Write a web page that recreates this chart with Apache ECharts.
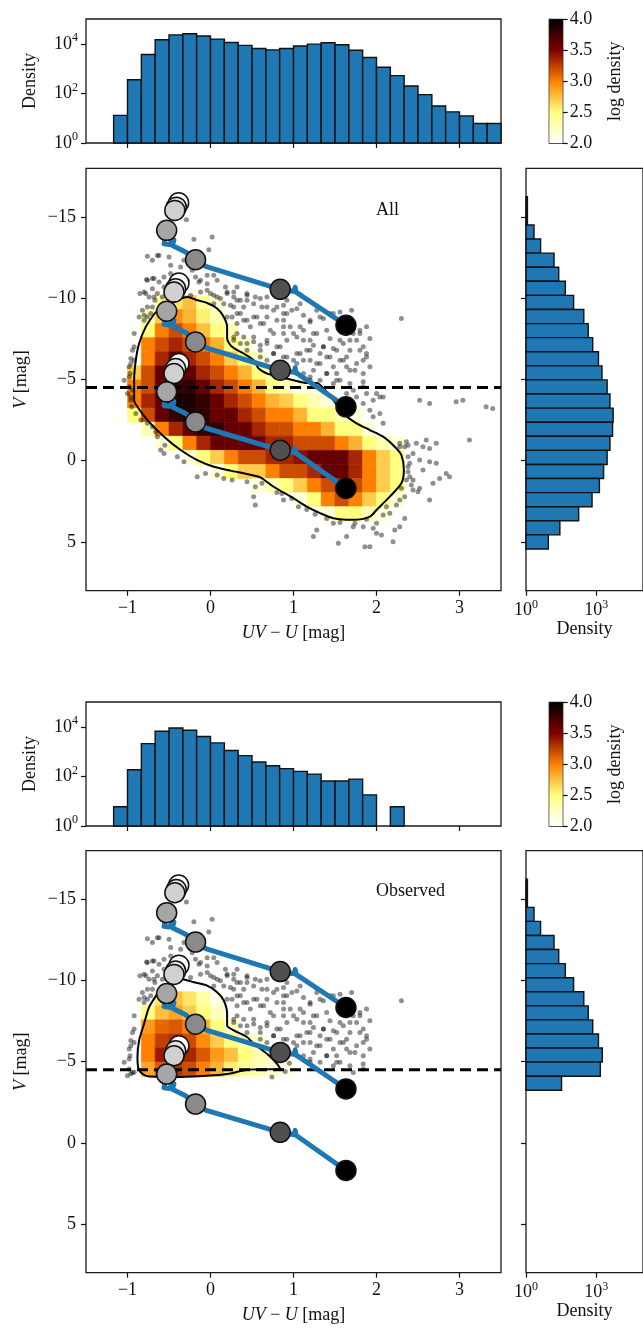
<!DOCTYPE html>
<html>
<head>
<meta charset="utf-8">
<script src="https://cdn.jsdelivr.net/npm/echarts@6/dist/echarts.min.js"></script>
<style>
  html, body { margin: 0; padding: 0; background: #fff; }
  #cmd { width: 643px; height: 1328px; }
</style>
</head>
<body>
<div id="cmd"></div>
<script>
// bin edges (colour UV-U and magnitude V)
var colorEdges = [-1.167, -1.0, -0.833, -0.667, -0.5, -0.333, -0.167, 0, 0.167, 0.333, 0.5, 0.667, 0.833, 1.0,
  1.167, 1.333, 1.5, 1.667, 1.833, 2.0, 2.167, 2.333, 2.5, 2.667, 2.833, 3.0, 3.167, 3.333, 3.5];
var magEdges = [-16.245, -15.378, -14.511, -13.644, -12.777, -11.91, -11.043, -10.176, -9.309, -8.442, -7.575,
  -6.708, -5.841, -4.974, -4.107, -3.24, -2.373, -1.506, -0.639, 0.228, 1.095, 1.962, 2.829, 3.696, 4.563, 5.43];

// marginal histograms
var colorHistAll = [13, 357, 3700, 14500, 23000, 25500, 20500, 15500, 11300, 8600, 6500, 5700, 6500, 8100,
  9700, 11000, 9100, 5500, 2800, 1130, 520, 200, 89, 31, 18, 12.4, 6.1, 6.1];
var colorHistObs = [6, 186, 2100, 6600, 8900, 7300, 4050, 2240, 1100, 690, 380, 270, 205, 160,
  124, 65, 65, 78, 18, 0, 6, 0, 0, 0, 0, 0, 0, 0];
var magHistAll = [1.15, 1.15, 2.2, 4.2, 15.8, 25, 48, 108, 295, 457, 710, 1250, 1770, 2930, 3870, 5300,
  5000, 3870, 2930, 2070, 1370, 665, 178, 28, 9];
var magHistObs = [1.15, 1.15, 2.2, 4.2, 15.8, 25, 48, 108, 295, 457, 710, 1250, 1820, 1500, 33, 0,
  0, 0, 0, 0, 0, 0, 0, 0, 0];

// 2D log density: [magBin, firstColourBin, values...]
var densAllRows = [
  [7, 3, [2.4, 2.6, 2.75, 2.4, 2.15]],
  [8, 2, [2.3, 2.7, 2.95, 2.8, 2.55, 2.3]],
  [9, 2, [2.5, 3.0, 3.2, 3.0, 2.75, 2.5, 2.3]],
  [10, 2, [3.0, 3.2, 3.35, 3.2, 3.0, 2.8, 2.5, 2.2]],
  [11, 2, [3.0, 3.35, 3.6, 3.35, 3.2, 3.0, 2.7, 2.5, 2.2]],
  [12, 1, [2.7, 3.2, 3.6, 3.8, 3.6, 3.35, 3.2, 3.0, 2.8, 2.5, 2.3, 2.15]],
  [13, 1, [3.0, 3.2, 3.6, 3.8, 3.8, 3.6, 3.35, 3.2, 3.0, 2.8, 2.5, 2.3, 2.15, 2.1]],
  [14, 1, [3.0, 3.35, 3.6, 3.9, 3.9, 3.8, 3.6, 3.35, 3.2, 3.0, 2.8, 2.7, 2.5, 2.3, 2.15]],
  [15, 1, [2.5, 3.2, 3.6, 3.8, 3.9, 3.8, 3.6, 3.6, 3.35, 3.2, 3.0, 3.0, 2.8, 2.5, 2.5, 2.3, 2.15]],
  [16, 2, [2.3, 3.0, 3.35, 3.6, 3.8, 3.8, 3.6, 3.6, 3.35, 3.2, 3.2, 3.0, 3.0, 2.8, 2.5, 2.5, 2.15]],
  [17, 3, [2.15, 2.5, 3.0, 3.35, 3.6, 3.6, 3.6, 3.6, 3.35, 3.35, 3.2, 3.2, 3.2, 3.0, 2.8, 2.5, 2.3, 2.15]],
  [18, 5, [2.15, 2.5, 2.7, 3.0, 3.2, 3.2, 3.35, 3.35, 3.45, 3.6, 3.6, 3.6, 3.35, 3.0, 2.7, 2.5]],
  [19, 7, [2.15, 2.5, 2.7, 2.7, 3.0, 3.2, 3.2, 3.35, 3.6, 3.6, 3.35, 3.0, 2.7, 2.5]],
  [20, 10, [2.15, 2.3, 2.5, 2.7, 3.0, 3.2, 3.35, 3.2, 3.0, 2.7, 2.5]],
  [21, 13, [2.15, 2.5, 3.0, 3.2, 3.0, 2.7, 2.5, 2.15]],
  [22, 15, [2.15, 2.5, 2.5, 2.3, 2.15]]
];
var densObsRows = [
  [8, 3, [2.6, 2.75, 2.6, 2.35, 2.1]],
  [9, 2, [2.5, 2.75, 2.85, 2.7, 2.5, 2.25]],
  [10, 2, [2.9, 3.1, 3.15, 3.0, 2.8, 2.5, 2.25]],
  [11, 2, [3.0, 3.25, 3.3, 3.2, 2.95, 2.7, 2.5, 2.3, 2.15]],
  [12, 2, [3.0, 3.4, 3.45, 3.35, 3.15, 2.9, 2.75, 2.5, 2.3, 2.2, 2.1]],
  [13, 2, [2.85, 3.15, 3.3, 3.2, 3.0, 2.8, 2.55, 2.4, 2.3, 2.2, 2.1]]
];

// individual sources outside the density contour
var scatterUpper = [
  [-0.29, -14.84], [-0.20, -13.63], [0.02, -13.77], [-0.02, -12.99], [-0.76, -12.58], [-0.62, -12.64],
  [-0.48, -12.03], [-0.70, -12.34], [-0.50, -12.54], [-0.77, -11.15], [-0.70, -11.21], [-0.62, -11.00],
  [-0.80, -10.39], [-0.85, -10.29], [-0.74, -10.08], [-0.67, -9.88], [-0.70, -9.47], [-0.76, -9.47],
  [-0.70, -10.59], [-0.64, -10.29], [-0.56, -10.70], [-0.58, -10.08], [-0.24, -10.18], [-0.48, -11.52],
  [-0.28, -11.11], [-0.22, -11.72], [-0.04, -11.41], [0.08, -11.11], [0.18, -10.70], [0.44, -10.29],
  [0.32, -10.70], [0.68, -10.08], [0.92, -9.88], [-0.18, -11.31], [-0.14, -11.00], [-0.12, -10.39],
  [-0.04, -10.49], [0.04, -10.18], [0.12, -9.98], [0.20, -10.29], [0.28, -10.39], [0.32, -9.88],
  [0.16, -9.67], [0.04, -9.67], [0.28, -9.47], [0.40, -9.47], [0.44, -9.88], [0.54, -10.08],
  [0.62, -9.47], [0.52, -8.85], [0.36, -9.06], [0.26, -8.85], [0.32, -8.44], [0.44, -8.65],
  [0.60, -8.44], [0.68, -8.85], [0.80, -9.47], [0.88, -9.06], [0.98, -9.26], [1.08, -9.67],
  [1.20, -8.65], [1.32, -8.85], [1.48, -9.06], [1.56, -9.16], [1.70, -9.26], [1.80, -8.03],
  [1.76, -7.42], [1.68, -6.80], [1.88, -6.60], [1.84, -6.19], [1.74, -5.57], [1.48, -6.91],
  [1.36, -7.01], [1.24, -7.11], [1.12, -7.42], [1.00, -7.83], [0.88, -8.24], [0.76, -7.83],
  [0.68, -7.42], [0.60, -7.11], [0.44, -7.21], [0.32, -7.83], [0.28, -7.42], [0.40, -7.62],
  [0.52, -7.62], [0.80, -7.01], [0.92, -7.42], [1.08, -6.60], [1.20, -6.19], [1.32, -5.98],
  [1.24, -5.57], [1.40, -5.37], [1.52, -5.37], [1.64, -5.78], [1.00, -6.19], [0.90, -5.78],
  [0.68, -6.19], [0.60, -6.39], [0.76, -6.60], [0.88, -6.39], [1.04, -5.37], [1.20, -5.16],
  [1.32, -4.96], [1.56, -4.96], [1.72, -4.34], [1.84, -4.55], [0.88, -8.65], [1.08, -8.24],
  [1.24, -7.83], [1.40, -8.03], [1.56, -7.42], [1.72, -7.83], [1.84, -7.01], [1.64, -6.39],
  [1.56, -6.19], [1.44, -6.39], [1.32, -6.60], [1.16, -6.80], [1.04, -5.98], [1.48, -4.75],
  [2.30, -8.75], [-1.04, -4.96], [-0.98, -5.16], [-0.96, -5.98], [-0.92, -6.19], [-0.86, -8.85],
  [-0.92, -7.83], [-0.92, -7.01], [-0.94, -6.80], [-0.98, -5.78], [-0.97, -5.37], [-0.98, -4.55],
  [-0.94, -4.34], [-0.80, -8.65], [-0.76, -8.85], [-0.82, -9.26],
  [-0.64, -12.64], [-0.32, -12.34], [-0.36, -11.93], [-0.76, -11.11], [-0.68, -11.21], [-0.56, -11.31],
  [-0.78, -10.29], [-0.68, -10.08], [-0.12, -11.11], [-0.04, -10.90], [0.04, -11.41], [0.0, -10.29],
  [0.08, -10.08], [0.20, -10.39], [0.28, -10.08], [0.24, -9.57], [0.36, -9.88], [0.44, -10.18],
  [0.52, -9.67], [0.60, -9.98], [0.68, -9.47], [0.76, -9.26], [0.88, -9.57], [0.92, -9.06],
  [1.04, -9.36], [1.12, -8.95], [1.20, -8.54], [1.28, -9.26], [1.36, -8.75], [1.44, -9.06],
  [0.20, -8.85], [0.32, -9.06], [0.40, -8.65], [0.48, -8.24], [0.56, -8.85], [0.64, -8.44],
  [0.72, -8.03], [0.80, -8.65], [0.88, -7.83], [0.96, -8.24], [1.04, -7.62], [1.12, -8.03],
  [1.20, -7.42], [1.28, -7.83], [1.36, -7.01], [1.44, -7.52], [1.52, -6.80], [1.60, -7.21],
  [1.68, -7.42], [1.80, -6.80], [1.88, -6.39], [1.80, -7.83], [1.92, -7.52], [1.88, -8.24],
  [0.28, -7.62], [0.36, -7.21], [0.44, -6.80], [0.52, -7.32], [0.60, -6.80], [0.68, -7.21],
  [0.76, -6.60], [0.84, -7.01], [0.92, -6.39], [1.04, -6.60], [1.12, -6.19], [1.20, -6.80],
  [1.28, -5.98], [1.40, -6.39], [1.48, -5.78], [1.60, -6.19], [1.68, -5.57], [1.76, -5.98],
  [1.84, -5.37], [1.92, -5.78], [1.40, -5.37], [1.12, -5.37], [1.20, -4.96], [1.52, -4.96],
  [1.68, -4.75], [1.84, -4.86], [-0.96, -6.30], [-0.80, -8.95], [-0.72, -9.06]
];
var scatterLower = [
  [-0.70, -2.09], [-0.66, -1.78], [-0.55, -0.96], [-0.32, 0.06], [-0.16, 0.98], [-0.06, 0.78],
  [0.08, 0.88], [0.16, 1.09], [0.26, 1.19], [0.44, 1.29], [0.54, 1.60], [0.52, 2.21], [0.54, 2.73],
  [0.62, 1.39], [0.80, 1.95], [0.86, 2.01], [0.88, 2.42], [0.98, 2.32], [1.06, 2.83], [1.16, 3.0],
  [1.26, 3.3], [1.28, 4.26], [1.40, 3.55], [1.48, 3.85], [1.54, 5.08], [1.64, 4.67], [1.74, 3.85],
  [1.84, 4.06], [1.86, 5.29], [1.92, 5.29], [2.00, 4.47], [2.06, 4.57], [2.20, 4.98], [2.22, 4.26],
  [2.28, 4.06], [2.34, 3.55], [2.24, 2.73], [2.28, 2.42], [2.34, 2.21], [2.44, 1.80], [2.52, 1.70],
  [2.64, 2.42], [2.68, 1.39], [2.76, 1.09], [2.84, 0.78], [2.88, 0.98], [2.72, 0.16], [2.64, 0.06],
  [2.52, -0.04], [2.44, -0.45], [2.38, -0.25], [2.40, 0.16], [2.34, -0.86], [2.28, -1.07],
  [2.38, -0.96], [2.48, -1.07], [2.60, -1.27], [2.56, 0.57], [2.40, 0.98], [2.44, 1.19], [2.16, 3.24],
  [2.08, 3.34], [2.00, 3.85], [1.96, 4.16], [1.72, 4.06], [1.56, 3.8], [1.24, 4.67], [1.88, 3.6],
  [2.12, 2.83], [2.38, 0.37], [2.38, 0.68], [2.36, 1.19], [2.42, 1.50], [2.50, 1.91], [2.30, 1.70],
  [2.52, -3.73], [2.64, -3.52], [2.96, -3.63], [3.04, -3.73], [3.32, -3.32], [3.40, -3.22],
  [3.12, -1.27], [2.72, -1.07], [2.64, -0.76], [2.56, -0.86], [2.36, -1.17], [2.28, -0.86],
  [2.04, -2.91], [1.96, -2.70], [1.92, -3.11], [1.84, -3.52], [2.08, -2.30], [-0.96, -3.73],
  [-0.95, -3.32], [-0.90, -2.91], [-0.84, -2.50], [-0.76, -2.30], [-0.56, -0.45], [-0.64, -1.48],
  [-1.00, -4.14], [-0.96, -3.93], [1.64, -4.14], [1.76, -3.93], [1.88, -4.14], [1.96, -3.73],
  [2.04, -3.93], [1.68, -3.52], [-0.40, -0.25], [-0.60, -0.66], [2.00, -4.14], [2.08, -3.93]
];
var obsExtra = [[-0.96, -4.26], [-0.92, -4.35], [0.74, -4.06], [0.90, -4.40], [0.95, -4.90], [-1.0, -4.14]];

// density contours
var contourAll = [
  [-0.672, -9.08], [-0.58, -9.37], [-0.40, -9.88], [-0.28, -10.08], [-0.16, -9.88], [-0.04, -9.71],
  [0.08, -9.37], [0.16, -8.85], [0.20, -8.24], [0.20, -7.52], [0.26, -7.01], [0.40, -6.60],
  [0.52, -6.19], [0.58, -5.68], [0.68, -5.37], [0.84, -5.16], [1.0, -4.96], [1.16, -4.79],
  [1.28, -4.79], [1.38, -4.35], [1.48, -3.73], [1.60, -2.91], [1.76, -2.30], [1.92, -1.89],
  [2.08, -1.48], [2.22, -0.86], [2.30, -0.35], [2.33, 0.57], [2.30, 1.39], [2.16, 2.21], [2.0, 3.03],
  [1.92, 3.44], [1.72, 3.64], [1.48, 3.54], [1.32, 3.23], [1.16, 2.83], [1.0, 2.31], [0.76, 1.60],
  [0.60, 1.02], [0.44, 0.82], [0.24, 0.61], [0.04, 0.37], [-0.16, -0.04], [-0.36, -0.66],
  [-0.56, -1.48], [-0.76, -2.50], [-0.88, -3.32], [-0.92, -3.73], [-0.92, -4.96], [-0.90, -6.19],
  [-0.86, -7.22], [-0.78, -8.24], [-0.672, -9.08]
];
var contourObs = [
  [-0.64, -9.18], [-0.36, -10.10], [-0.20, -9.90], [-0.04, -9.69], [0.08, -9.28], [0.16, -8.77],
  [0.20, -7.95], [0.20, -7.23], [0.28, -6.93], [0.44, -6.52], [0.52, -6.11], [0.68, -5.49],
  [0.80, -4.88], [0.84, -4.57], [0.44, -4.51], [0.24, -4.27], [0.04, -4.16], [-0.36, -4.06],
  [-0.76, -4.10], [-0.86, -4.47], [-0.88, -5.29], [-0.86, -6.31], [-0.80, -7.34], [-0.74, -8.36],
  [-0.64, -9.18]
];

// model tracks: age points and the blue path between them
var ageColors = ['#ffffff', '#e4e4e4', '#d0d0d0', '#a6a6a6', '#8a8a8a', '#505050', '#000000'];
var trackPtsA = [[-0.384, -15.88], [-0.412, -15.61], [-0.43, -15.41], [-0.528, -14.18], [-0.18, -12.37], [0.84, -10.55], [1.632, -8.34]];
var trackPtsB = [[-0.38, -10.94], [-0.42, -10.59], [-0.44, -10.38], [-0.528, -9.2], [-0.18, -7.31], [0.84, -5.57], [1.632, -3.32]];
var trackPtsC = [[-0.38, -5.98], [-0.42, -5.67], [-0.44, -5.37], [-0.528, -4.24], [-0.18, -2.39], [0.84, -0.65], [1.632, 1.70]];
var trackLineA = [[-0.528, -14.18], [-0.56, -13.35], [-0.5, -13.3], [-0.44, -13.6], [-0.46, -13.25], [-0.3, -12.85],
  [-0.18, -12.37], [-0.05, -11.95], [0.84, -10.55], [1.01, -10.42], [1.02, -10.68], [1.03, -10.38], [1.632, -8.34]];
var trackLineB = [[-0.528, -9.2], [-0.56, -8.4], [-0.5, -8.35], [-0.44, -8.65], [-0.46, -8.3], [-0.3, -7.9],
  [-0.18, -7.31], [-0.05, -6.95], [0.84, -5.57], [1.01, -5.45], [1.02, -5.72], [1.03, -5.42], [1.632, -3.32]];
var trackLineC = [[-0.528, -4.24], [-0.56, -3.4], [-0.5, -3.35], [-0.44, -3.65], [-0.46, -3.3], [-0.3, -2.9],
  [-0.18, -2.39], [-0.05, -2.0], [0.84, -0.65], [1.01, -0.5], [1.02, -0.77], [1.03, -0.47], [1.632, 1.70]];

var magLimit = -4.5;
var colorTicks = [-1, 0, 1, 2, 3];
var magTicks = [-15, -10, -5, 0, 5];
var densTicksTop = [1, 100, 10000];
var densTicksSide = [1, 1000];
var cbarRange = [[2, 4]];
var cmapColors = ['#ffffff', '#ffff80', '#ff8000', '#800000', '#000000'];

var FONT = 'Liberation Serif';
var txt = { fontFamily: FONT, fontSize: 18, color: '#111' };
var supRich = { s: { fontFamily: FONT, fontSize: 12, color: '#111', padding: [0, 0, 12, 0] } };
var italicRich = { i: Object.assign({}, txt, { fontStyle: 'italic' }) };
var barStyle = { fill: '#1f77b4', stroke: '#111', lineWidth: 1.4 };
var tickStyle = { length: 5, lineStyle: { color: '#111', width: 1.2 } };

function minus(v) { return String(v).replace('-', '\u2212'); }
function pow10(v) { return '10{s|' + Math.round(Math.log10(v)) + '}'; }

function histData(counts) {
  var out = [];
  counts.forEach(function (c, i) { if (c > 0) out.push([colorEdges[i], colorEdges[i + 1], c]); });
  return out;
}
function magHistData(counts) {
  var out = [];
  counts.forEach(function (c, i) { if (c > 0) out.push([magEdges[i], magEdges[i + 1], c]); });
  return out;
}
function cells(rows) {
  var out = [];
  rows.forEach(function (r) {
    r[2].forEach(function (d, i) {
      var j = r[1] + i;
      out.push([colorEdges[j], colorEdges[j + 1], magEdges[r[0]], magEdges[r[0] + 1], d]);
    });
  });
  return out;
}

function colorBarRect(params, api) {
  var a = api.coord([api.value(0), 1]);
  var b = api.coord([api.value(1), api.value(2)]);
  return { type: 'rect', shape: { x: a[0], y: b[1], width: b[0] - a[0], height: a[1] - b[1] }, style: barStyle };
}
function magBarRect(params, api) {
  var a = api.coord([1, api.value(0)]);
  var b = api.coord([api.value(2), api.value(1)]);
  return { type: 'rect', shape: { x: a[0], y: Math.min(a[1], b[1]), width: b[0] - a[0], height: Math.abs(b[1] - a[1]) }, style: barStyle };
}
function cellRect(params, api) {
  var a = api.coord([api.value(0), api.value(2)]);
  var b = api.coord([api.value(1), api.value(3)]);
  var c = api.visual('color');
  return { type: 'rect', shape: { x: Math.min(a[0], b[0]), y: Math.min(a[1], b[1]), width: Math.abs(b[0] - a[0]), height: Math.abs(b[1] - a[1]) },
    style: { fill: c, stroke: c, lineWidth: 0.6 } };
}
function cbarRect(params, api) {
  var a = api.coord([0, api.value(0)]);
  var b = api.coord([1, api.value(1)]);
  var stops = cmapColors.slice().reverse().map(function (c, i) { return { offset: i / (cmapColors.length - 1), color: c }; });
  return { type: 'rect', shape: { x: a[0], y: b[1], width: b[0] - a[0], height: a[1] - b[1] },
    style: { fill: new echarts.graphic.LinearGradient(0, 0, 0, 1, stops) } };
}

// axes
var noLine = { show: false, onZero: false };
function colorAxis(g, labels) {
  return {
    type: 'value', gridIndex: g, min: -1.5, max: 3.5,
    splitLine: { show: false }, axisLine: noLine,
    axisTick: Object.assign({ customValues: colorTicks }, tickStyle),
    axisLabel: Object.assign({ show: labels, customValues: colorTicks, formatter: minus, margin: 9 }, txt),
    name: labels ? '{i|UV} \u2212 {i|U} [mag]' : '', nameLocation: 'middle', nameGap: 34,
    nameTextStyle: Object.assign({ rich: italicRich }, txt)
  };
}
function magAxis(g, labels) {
  return {
    type: 'value', gridIndex: g, min: -18, max: 8, inverse: true,
    splitLine: { show: false }, axisLine: noLine,
    axisTick: Object.assign({ customValues: magTicks }, tickStyle),
    axisLabel: Object.assign({ show: labels, customValues: magTicks, formatter: minus, margin: 10 }, txt),
    name: labels ? '{i|V} [mag]' : '', nameLocation: 'middle', nameGap: 56,
    nameTextStyle: Object.assign({ rich: italicRich }, txt)
  };
}
function logAxis(g, ticks, name, gap) {
  return {
    type: 'log', gridIndex: g, min: 1, max: 1e5, logBase: 10,
    splitLine: { show: false }, axisLine: noLine, minorTick: { show: false },
    axisTick: Object.assign({ customValues: ticks }, tickStyle),
    axisLabel: Object.assign({ customValues: ticks, formatter: pow10, rich: supRich, margin: 8 }, txt),
    name: name, nameLocation: 'middle', nameGap: gap, nameTextStyle: txt
  };
}
function cbarXAxis(g) { return { type: 'value', gridIndex: g, min: 0, max: 1, show: false }; }
function cbarYAxis(g) {
  return {
    type: 'value', gridIndex: g, min: 2, max: 4, interval: 0.5, position: 'right',
    splitLine: { show: false }, axisLine: noLine, axisTick: tickStyle,
    axisLabel: Object.assign({ formatter: function (v) { return v.toFixed(1); }, margin: 7 }, txt),
    name: 'log density', nameLocation: 'middle', nameGap: 44, nameTextStyle: txt
  };
}

var frame = { show: true, borderColor: '#1a1a1a', borderWidth: 1.3, backgroundColor: 'transparent' };
function grid(o) { return Object.assign({}, frame, o); }

function panelSeries(xi, yi, heat, dots, contour) {
  var list = [
    { type: 'custom', xAxisIndex: xi, yAxisIndex: yi, renderItem: cellRect, data: cells(heat),
      encode: { x: [0, 1], y: [2, 3] }, z: 1, silent: true },
    { type: 'scatter', xAxisIndex: xi, yAxisIndex: yi, data: dots, symbolSize: 5,
      itemStyle: { color: 'rgba(0,0,0,0.55)' }, z: 2, silent: true },
    { type: 'line', xAxisIndex: xi, yAxisIndex: yi, data: contour, showSymbol: false, symbol: 'none', smooth: 0.25,
      lineStyle: { color: '#000', width: 2 }, z: 3, silent: true },
    { type: 'line', xAxisIndex: xi, yAxisIndex: yi, data: [[-1.5, magLimit], [3.5, magLimit]], symbol: 'none',
      lineStyle: { color: '#000', width: 3, type: [11, 6] }, z: 4, silent: true }
  ];
  [[trackLineA, trackPtsA], [trackLineB, trackPtsB], [trackLineC, trackPtsC]].forEach(function (t) {
    list.push({ type: 'line', xAxisIndex: xi, yAxisIndex: yi, data: t[0], symbol: 'none',
      lineStyle: { color: '#1f77b4', width: 5, cap: 'round', join: 'round' }, z: 5, silent: true });
    list.push({ type: 'scatter', xAxisIndex: xi, yAxisIndex: yi, symbolSize: 20, z: 6, silent: true,
      data: t[1].map(function (p, i) { return { value: p, itemStyle: { color: ageColors[i] } }; }),
      itemStyle: { borderColor: '#111', borderWidth: 1.5, opacity: 1 } });
  });
  return list;
}

var series = [].concat(
  [{ type: 'custom', xAxisIndex: 0, yAxisIndex: 0, renderItem: colorBarRect, data: histData(colorHistAll), encode: { x: [0, 1], y: 2 } }],
  panelSeries(1, 1, densAllRows, scatterUpper.concat(scatterLower), contourAll),
  [{ type: 'custom', xAxisIndex: 2, yAxisIndex: 2, renderItem: magBarRect, data: magHistData(magHistAll), encode: { x: 2, y: [0, 1] } }],
  [{ type: 'custom', xAxisIndex: 3, yAxisIndex: 3, renderItem: colorBarRect, data: histData(colorHistObs), encode: { x: [0, 1], y: 2 } }],
  panelSeries(4, 4, densObsRows, scatterUpper.concat(obsExtra), contourObs),
  [{ type: 'custom', xAxisIndex: 5, yAxisIndex: 5, renderItem: magBarRect, data: magHistData(magHistObs), encode: { x: 2, y: [0, 1] } }],
  [{ type: 'custom', xAxisIndex: 6, yAxisIndex: 6, renderItem: cbarRect, data: cbarRange, encode: { y: [0, 1] } }],
  [{ type: 'custom', xAxisIndex: 7, yAxisIndex: 7, renderItem: cbarRect, data: cbarRange, encode: { y: [0, 1] } }]
);
var heatIdx = [];
series.forEach(function (s, i) { if (s.renderItem === cellRect) heatIdx.push(i); });

var chart = echarts.init(document.getElementById('cmd'), null, { renderer: 'canvas' });
chart.setOption({
  animation: false,
  backgroundColor: '#fff',
  title: [
    { text: 'All', left: 376, top: 201, padding: 0, textStyle: Object.assign({ fontWeight: 'normal' }, txt) },
    { text: 'Observed', left: 376, top: 882, padding: 0, textStyle: Object.assign({ fontWeight: 'normal' }, txt) }
  ],
  grid: [
    grid({ left: 86, top: 19, width: 415, height: 124 }),
    grid({ left: 86, top: 168.3, width: 415, height: 422.4 }),
    grid({ left: 526, top: 168.3, right: -5, height: 422.4 }),
    grid({ left: 86, top: 702, width: 415, height: 124 }),
    grid({ left: 86, top: 850.7, width: 415, height: 422 }),
    grid({ left: 526, top: 850.7, right: -5, height: 422 }),
    grid({ left: 549.3, top: 19.5, width: 13.4, height: 123.5 }),
    grid({ left: 549.3, top: 702.5, width: 13.4, height: 123.5 })
  ],
  xAxis: [
    colorAxis(0, false), colorAxis(1, true), logAxis(2, densTicksSide, 'Density', 30),
    colorAxis(3, false), colorAxis(4, true), logAxis(5, densTicksSide, 'Density', 30),
    cbarXAxis(6), cbarXAxis(7)
  ],
  yAxis: [
    logAxis(0, densTicksTop, 'Density', 47), magAxis(1, true), magAxis(2, false),
    logAxis(3, densTicksTop, 'Density', 47), magAxis(4, true), magAxis(5, false),
    cbarYAxis(6), cbarYAxis(7)
  ],
  visualMap: [{ type: 'continuous', show: false, min: 2, max: 4, dimension: 4, seriesIndex: heatIdx,
    inRange: { color: cmapColors } }],
  series: series
});
</script>
</body>
</html>
